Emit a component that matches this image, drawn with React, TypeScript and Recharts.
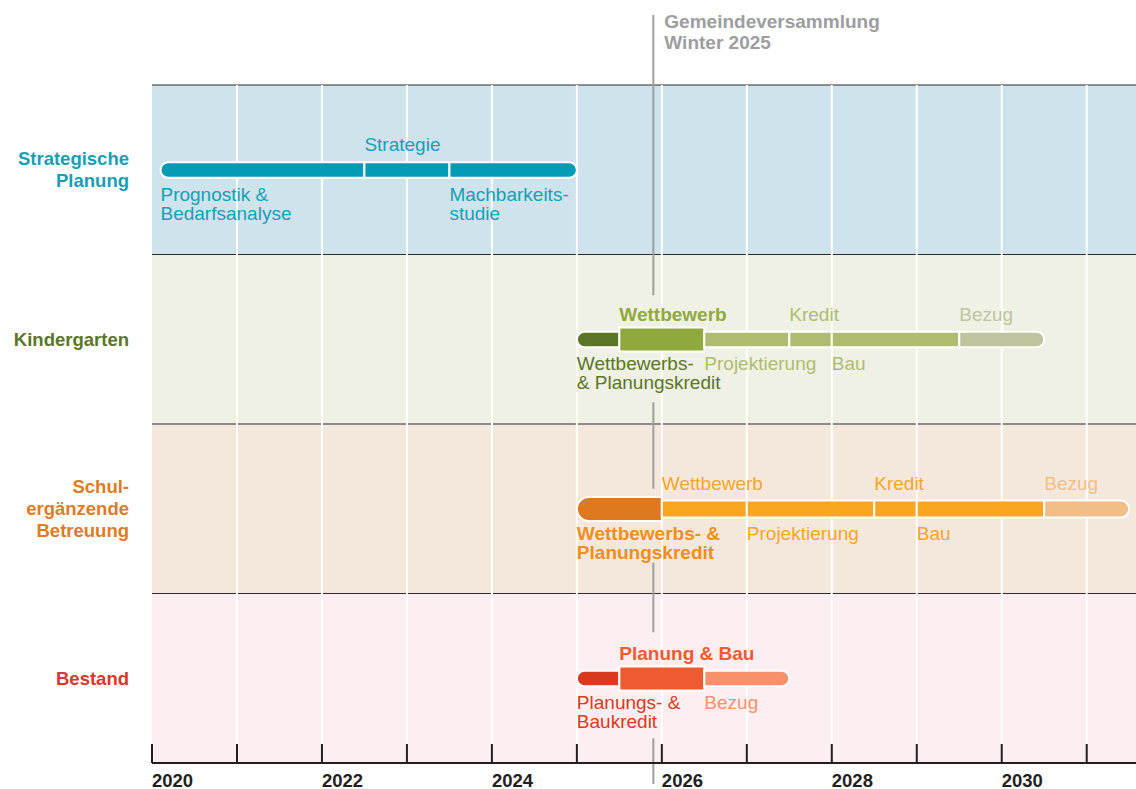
import React from "react"
import {
  ComposedChart,
  Bar,
  XAxis,
  YAxis,
  ReferenceArea,
  ReferenceLine,
  ReferenceDot,
} from "recharts"

// rows of the timeline, top to bottom
const rows = ["Strategische Planung", "Kindergarten", "Schulergänzende Betreuung", "Bestand"]
const rowLabels = [["Strategische", "Planung"], ["Kindergarten"], ["Schul-", "ergänzende", "Betreuung"], ["Bestand"]]
const rowColors = ["#159fb6", "#5b7628", "#e07b22", "#d9382a"]
const bandColors = ["#cee3eb", "#eff1e4", "#f4e8dc", "#fdeef2"]

// phase boundaries in years
const strategieSteps = [2020.1, 2022.5, 2023.5, 2025]
const kindergartenSteps = [2025, 2025.5, 2026.5, 2027.5, 2028, 2029.5, 2030.5]
const betreuungSteps = [2025, 2026, 2027, 2028.5, 2029, 2030.5, 2031.5]
const bestandSteps = [2025, 2025.5, 2026.5, 2027.5]
const allSteps = [strategieSteps, kindergartenSteps, betreuungSteps, bestandSteps]

const strategieFills = ["#049bb4", "#049bb4", "#049bb4"]
const kindergartenFills = ["#5b7526", "#8fa93d", "#afbc6f", "#afbc6f", "#afbc6f", "#bfc39e"]
const betreuungFills = ["#df791f", "#f8a61f", "#f8a61f", "#f8a61f", "#f8a61f", "#f1be87"]
const bestandFills = ["#d83a20", "#f05a30", "#f5926c"]
const allFills = [strategieFills, kindergartenFills, betreuungFills, bestandFills]

// which segment is drawn thicker (-1 = none)
const thickSegment = [-1, 1, 0, 1]
const barHeights = [15.5, 15.5, 17, 15.5]

const yearTicks = [2020, 2021, 2022, 2023, 2024, 2025, 2026, 2027, 2028, 2029, 2030, 2031]
const gridYears = [2021, 2022, 2023, 2024, 2025, 2026, 2027, 2028, 2029, 2030, 2031]
const meetingYear = 2025.9
const meetingLabel = ["Gemeindeversammlung", "Winter 2025"]

type Note = { row: number; year: number; lines: string[]; color: string; bold?: boolean; above?: boolean }
const notes: Note[] = [
  { row: 0, year: 2022.5, lines: ["Strategie"], color: "#149fb7", above: true },
  { row: 0, year: 2020.1, lines: ["Prognostik &", "Bedarfsanalyse"], color: "#149fb7" },
  { row: 0, year: 2023.5, lines: ["Machbarkeits-", "studie"], color: "#149fb7" },
  { row: 1, year: 2025.5, lines: ["Wettbewerb"], color: "#8fa93d", bold: true, above: true },
  { row: 1, year: 2027.5, lines: ["Kredit"], color: "#afbc6f", above: true },
  { row: 1, year: 2029.5, lines: ["Bezug"], color: "#c0c4a0", above: true },
  { row: 1, year: 2025, lines: ["Wettbewerbs-", "& Planungskredit"], color: "#5b7526" },
  { row: 1, year: 2026.5, lines: ["Projektierung"], color: "#afbc6f" },
  { row: 1, year: 2028, lines: ["Bau"], color: "#afbc6f" },
  { row: 2, year: 2026, lines: ["Wettbewerb"], color: "#f8a61f", above: true },
  { row: 2, year: 2028.5, lines: ["Kredit"], color: "#f8a61f", above: true },
  { row: 2, year: 2030.5, lines: ["Bezug"], color: "#f1be87", above: true },
  { row: 2, year: 2025, lines: ["Wettbewerbs- &", "Planungskredit"], color: "#f08e1e", bold: true },
  { row: 2, year: 2027, lines: ["Projektierung"], color: "#f8a61f" },
  { row: 2, year: 2029, lines: ["Bau"], color: "#f8a61f" },
  { row: 3, year: 2025.5, lines: ["Planung & Bau"], color: "#f05a30", bold: true, above: true },
  { row: 3, year: 2025, lines: ["Planungs- &", "Baukredit"], color: "#d83a20" },
  { row: 3, year: 2026.5, lines: ["Bezug"], color: "#f5926c" },
]

const FONT = "'Liberation Sans', Arial, Helvetica, sans-serif"
const MAX_SEG = 6

const table = rows.map((row, idx) => {
  const entry: any = { row, idx }
  const steps = allSteps[idx]
  for (let s = 0; s < steps.length - 1; s++) entry[`s${s}`] = [steps[s], steps[s + 1]]
  return entry
})

// gaps in the meeting line around the labels, relative to row centre
const meetingGaps: (number[] | null)[] = [null, [-44, 63], [-20, 54], [-46, 60]]

function segmentShape(seg: number) {
  return (props: any) => {
    const { x, y, width, height, payload } = props
    const r = payload?.idx
    if (r == null || !width || !allSteps[r] || seg >= allSteps[r].length - 1) return <g />
    const thick = thickSegment[r] === seg
    const h = thick ? 24 : barHeights[r]
    const cy = y + height / 2
    const top = cy - h / 2
    const first = seg === 0
    const last = seg === allSteps[r].length - 2
    const rad = h / 2
    const L = first ? x + rad : x
    const R = last ? x + width - rad : x + width
    let d = `M${L},${top} H${R}`
    d += last ? ` A${rad},${rad} 0 0 1 ${R},${top + h}` : ` V${top + h}`
    d += ` H${L}`
    d += first ? ` A${rad},${rad} 0 0 1 ${L},${top}` : ` V${top}`
    d += " Z"
    return <path d={d} fill={allFills[r][seg]} stroke="#ffffff" strokeWidth={2} />
  }
}

function noteShape(note: Note) {
  return (props: any) => {
    const { cx, cy } = props
    const fs = 19
    const start = note.above ? cy - 25 - (note.lines.length - 1) * 19 : cy + 24.5
    return (
      <text x={cx} fill={note.color} fontFamily={FONT} fontSize={fs} fontWeight={note.bold ? 700 : 400}>
        {note.lines.map((l, i) => (
          <tspan key={i} x={cx} y={start + i * 19 + fs * 0.35}>{l}</tspan>
        ))}
      </text>
    )
  }
}

function MeetingLine(props: any) {
  const { x1 } = props
  const top = Math.min(props.y1, props.y2)
  const bottom = Math.max(props.y1, props.y2)
  const band = (bottom - top) / rows.length
  const cuts: number[] = [top - 70]
  meetingGaps.forEach((g, i) => {
    if (!g) return
    const c = top + band * (i + 0.5)
    cuts.push(c + g[0], c + g[1])
  })
  cuts.push(bottom + 21)
  const segs = []
  for (let i = 0; i < cuts.length; i += 2) {
    segs.push(<line key={i} x1={x1} x2={x1} y1={cuts[i]} y2={cuts[i + 1]} stroke="#9e9e9e" strokeWidth={2} />)
  }
  return (
    <g>
      {segs}
      {meetingLabel.map((t, i) => (
        <text key={t} x={x1 + 11} y={top - 64 + i * 21 + 6.6} fill="#9d9d9f" fontFamily={FONT} fontSize={19} fontWeight={700}>
          {t}
        </text>
      ))}
    </g>
  )
}

function GridLine(props: any) {
  const { x1 } = props
  const top = Math.min(props.y1, props.y2)
  const bottom = Math.max(props.y1, props.y2)
  return <line x1={x1} x2={x1} y1={top} y2={bottom - 19} stroke="#ffffff" strokeWidth={2} />
}

function BandShape(props: any) {
  const { x, y, width, height, fill } = props
  return (
    <g>
      <rect x={x} y={y} width={width} height={height} fill={fill} />
      <line x1={x} x2={x + width} y1={y} y2={y} stroke="#2b2b2b" strokeWidth={1.2} />
    </g>
  )
}

function RowTick(props: any) {
  const { x, y, index } = props
  const lines = rowLabels[index] || []
  const lh = 22
  const y0 = y - ((lines.length - 1) * lh) / 2
  return (
    <text textAnchor="end" fill={rowColors[index]} fontFamily={FONT} fontSize={18.5} fontWeight={700}>
      {lines.map((l, i) => (
        <tspan key={i} x={x} y={y0 + i * lh + 6.5}>{l}</tspan>
      ))}
    </text>
  )
}

function YearTick(props: any) {
  const { x, y, payload } = props
  const v = payload.value
  return (
    <g>
      <line x1={x} x2={x} y1={y - 19} y2={y} stroke="#231f20" strokeWidth={2} />
      {v % 2 === 0 && (
        <text x={x} y={y + 23.5} fill="#231f20" fontFamily={FONT} fontSize={18.5} fontWeight={700}>
          {v}
        </text>
      )}
    </g>
  )
}

const anyProps = (p: any) => p

export default function App() {
  return (
    <div style={{ position: "absolute", left: 0, top: 0, width: 1136, height: 789, background: "#fff" }}>
      <ComposedChart
        width={1136}
        height={789}
        data={table}
        layout="vertical"
        margin={{ top: 85, right: 0, bottom: 0, left: 0 }}
        barSize={30}
        barGap={-30}
      >
        {rows.map((r, i) => (
          <ReferenceArea key={r} y1={r} y2={r} fill={bandColors[i]} fillOpacity={1} shape={BandShape} {...anyProps({ zIndex: 50 })} />
        ))}
        {gridYears.map((yr) => (
          <ReferenceLine key={yr} x={yr} shape={GridLine} {...anyProps({ zIndex: 150 })} />
        ))}
        <XAxis
          type="number"
          domain={[2020, 2031.58]}
          allowDataOverflow
          ticks={yearTicks}
          interval={0}
          tickLine={false}
          tickSize={0}
          tickMargin={0}
          height={26}
          axisLine={{ stroke: "#231f20", strokeWidth: 2 }}
          tick={YearTick}
        />
        <YAxis
          type="category"
          dataKey="row"
          width={152}
          axisLine={false}
          tickLine={false}
          tickSize={0}
          tickMargin={23}
          tick={RowTick}
        />
        <ReferenceLine x={meetingYear} shape={MeetingLine} />
        {Array.from({ length: MAX_SEG }, (_, s) => (
          <Bar key={s} dataKey={`s${s}`} isAnimationActive={false} shape={segmentShape(s)} />
        ))}
        {notes.map((n, k) => (
          <ReferenceDot key={k} x={n.year} y={rows[n.row]} r={0} shape={noteShape(n)} />
        ))}
      </ComposedChart>
    </div>
  )
}
